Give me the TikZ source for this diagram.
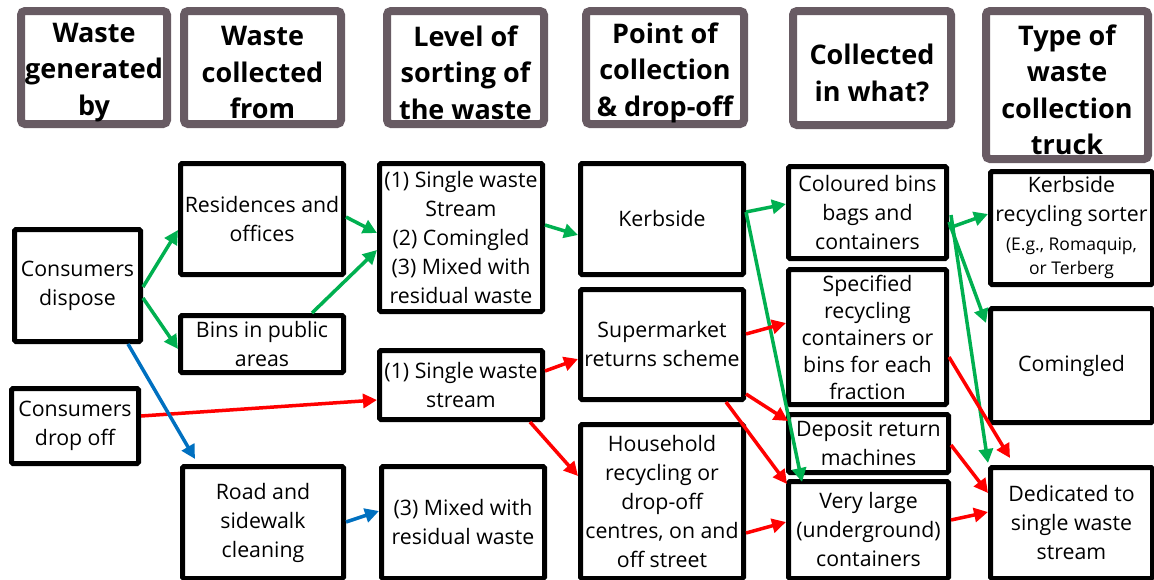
\documentclass[tikz,border=0pt]{standalone}
\usepackage{fontspec}
\setmainfont{Open Sans}
\usetikzlibrary{arrows.meta}
\definecolor{hdr}{RGB}{104,91,99}
\definecolor{gr}{RGB}{0,176,80}
\definecolor{rd}{RGB}{255,0,0}
\definecolor{bl}{RGB}{0,112,192}
\newcommand\smallf{\fontsize{17.5}{24}\selectfont}
\newcommand\contbox[7][]{\node[cbox,#1,minimum width={#5-#3-5},minimum height={#6-#4-5}] (#2) at ({(#3+#5)/2},{(#4+#6)/2}) {#7};}
\newcommand\headbox[6]{\node[hbx,minimum width={#4-#2-8},minimum height={#5-#3-8},
  label={[hlab]center:#6}] (#1) at ({(#2+#4)/2},{(#3+#5)/2}) {};}
\tikzset{
  hbx/.style={draw=hdr,line width=8pt,rounded corners=4pt,inner sep=0pt,fill=white},
  hlab/.style={align=center,inner sep=0pt,yshift=-5pt,
    font=\fontsize{27}{36.5}\selectfont\bfseries},
  cbox/.style={draw=black,line width=5pt,rounded corners=1.5pt,align=center,inner sep=0pt,fill=white,
    font=\fontsize{21.3}{29}\selectfont},
  arr/.style={line width=3.5pt,-{Triangle[length=14pt,width=14pt]}},
  ga/.style={arr,draw=gr,fill=gr},
  ra/.style={arr,draw=rd,fill=rd},
  ba/.style={arr,draw=bl,fill=bl}
}
\begin{document}
\begin{tikzpicture}[x=1pt,y=-1pt]
\useasboundingbox (0,0) rectangle (1154,579);
\clip (0,0) rectangle (1154,579);
% headers
\headbox{H1}{17}{7}{171}{128}{Waste\\generated\\by}
\headbox{H2}{180}{7}{345}{128}{Waste\\collected\\from}
\headbox{H3}{383}{7}{548}{128}{Level of\\sorting of\\the waste}
\headbox{H4}{582}{7}{748}{128}{Point of\\collection\\\& drop-off}
\headbox{H5}{789}{7}{955}{129}{Collected\\in what?}
\headbox{H6}{982}{7}{1152}{163}{Type of\\waste\\collection\\truck}
% content boxes
\contbox{CD}{12}{227}{143}{344}{Consumers\\dispose}
\contbox{RO}{178}{161}{346}{277}{Residences and\\offices}
\contbox{BP}{178}{313}{346}{375}{Bins in public\\areas}
\contbox{LA}{377}{161}{545}{314}{(1) Single waste\\Stream\\(2) Comingled\\(3) Mixed with\\residual waste}
\contbox{LB}{377}{348}{545}{422}{(1) Single waste\\stream}
\contbox{LC}{379}{464}{547}{581}{(3) Mixed with\\residual waste}
\contbox{CO}{9}{386}{141}{466}{Consumers\\drop off}
\contbox{RS}{180}{464}{346}{581}{Road and\\sidewalk\\cleaning}
\contbox{KB}{578}{161}{746}{277}{Kerbside}
\contbox{SR}{578}{287}{746}{402}{Supermarket\\returns scheme}
\contbox{HR}{578}{422}{746}{581}{Household\\recycling or\\drop-off\\centres, on and\\off street}
\contbox{CB}{786}{164}{949}{261}{Coloured bins\\bags and\\containers}
\contbox[font=\fontsize{21.3}{27}\selectfont]{SP}{786}{267}{949}{407}{Specified\\recycling\\containers or\\bins for each\\fraction}
\contbox{DR}{786}{412}{951}{475}{Deposit return\\machines}
\contbox{VL}{786}{479}{951}{581}{Very large\\(underground)\\containers}
\contbox[yshift=0pt]{KR}{988}{169}{1155}{287}{Kerbside\\recycling sorter\\{\smallf (E.g., Romaquip,}\\[-5pt]{\smallf or Terberg}}
\contbox{CM}{988}{306}{1155}{425}{Comingled}
\contbox{DS}{988}{465}{1155}{581}{Dedicated to\\single waste\\stream}
% green arrows
\draw[ga] ([shift={(0,60)}]CD.north east) -- ([shift={(0,69)}]RO.north west);
\draw[ga] ([shift={(0,71)}]CD.north east) -- ([shift={(0,36)}]BP.north west);
\draw[ga] ([shift={(0,56)}]RO.north east) -- ([shift={(0,72)}]LA.north west);
\draw[ga] ([shift={(134,0)}]BP.north west) -- ([shift={(0,89)}]LA.north west);
\draw[ga] ([shift={(0,64)}]LA.north east) -- ([shift={(0,74)}]KB.north west);
\draw[ga] ([shift={(0,51)}]KB.north east) -- ([shift={(0,40)}]CB.north west);
\draw[ga] ([shift={(0,51)}]KB.north east) -- ([shift={(16,3)}]VL.north west);
\draw[ga] ([shift={(0,64)}]CB.north east) -- ([shift={(0,45)}]KR.north west);
\draw[ga] ([shift={(0,58)}]CB.north east) -- ([shift={(-2,17)}]CM.north west);
\draw[ga] ([shift={(2,51)}]CB.north east) -- ([shift={(0,-2)}]DS.north west);
% red arrows
\draw[ra] ([shift={(0,30)}]CO.north east) -- ([shift={(0,52)}]LB.north west);
\draw[ra] ([shift={(0,23)}]LB.north east) -- ([shift={(0,72)}]SR.north west);
\draw[ra] ([shift={(-15,0)}]LB.south east) -- ([shift={(0,54)}]HR.north west);
\draw[ra] ([shift={(0,47)}]SR.north east) -- ([shift={(0,56)}]SP.north west);
\draw[ra] ([shift={(0,-8)}]SR.south east) -- ([shift={(2,9)}]DR.north west);
\draw[ra] ([shift={(-20,0)}]SR.south east) -- ([shift={(1,5)}]VL.north west);
\draw[ra] ([shift={(0,111)}]HR.north east) -- ([shift={(0,43)}]VL.north west);
\draw[ra] ([shift={(0,90)}]SP.north east) -- ([shift={(22,-7)}]DS.north west);
\draw[ra] ([shift={(0,33)}]DR.north east) -- ([shift={(0,28)}]DS.north west);
\draw[ra] ([shift={(0,41)}]VL.north east) -- ([shift={(0,47)}]DS.north west);
% blue arrows
\draw[ba] ([shift={(116,0)}]CD.south west) -- ([shift={(15,-5)}]RS.north west);
\draw[ba] ([shift={(0,58)}]RS.north east) -- ([shift={(0,47)}]LC.north west);
\end{tikzpicture}
\end{document}
